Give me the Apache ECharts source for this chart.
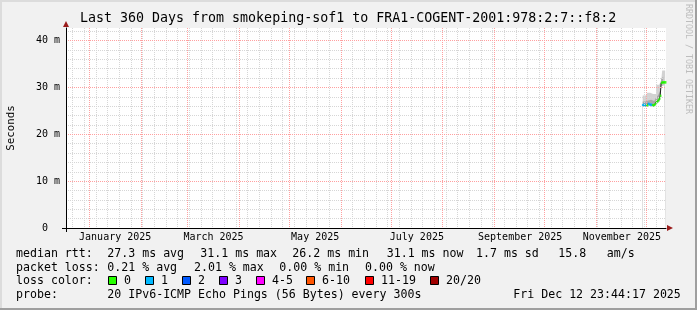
<!DOCTYPE html>
<html><head><meta charset="utf-8">
<script src="https://cdn.jsdelivr.net/npm/echarts@6/dist/echarts.min.js"></script>
<style>html,body{margin:0;padding:0;background:#f1f1f1;}#c{width:697px;height:310px;}</style>
</head><body><div id="c"></div>
<script>
// ---------- data ----------
const startTime = '2024-12-17T23:44:17';
const endTime = '2025-12-12T23:44:17';
const firstSunday = '2024-12-22T00:00:00';
const monthStarts = ['2025-01-01T00:00:00','2025-02-01T00:00:00','2025-03-01T00:00:00','2025-04-01T00:00:00',
  '2025-05-01T00:00:00','2025-06-01T00:00:00','2025-07-01T00:00:00','2025-08-01T00:00:00',
  '2025-09-01T00:00:00','2025-10-01T00:00:00','2025-11-01T00:00:00','2025-12-01T00:00:00'];
const xLabelDates = ['2025-01-16T12:00:00','2025-03-16T12:00:00','2025-05-16T12:00:00',
  '2025-07-16T12:00:00','2025-09-16T12:00:00','2025-11-16T12:00:00'];
const xLabelTexts = ['January 2025','March 2025','May 2025','July 2025','September 2025','November 2025'];
const yLabelTicks = [0, 10, 20, 30, 40];
const yMinorTicks = [2,4,6,8,12,14,16,18,22,24,26,28,32,34,36,38,42];
const yMax = 42.7;

const times = ['2025-11-29T00:00:00','2025-11-29T14:24:00','2025-11-30T04:48:00','2025-11-30T19:12:00',
  '2025-12-01T09:36:00','2025-12-02T00:00:00','2025-12-02T14:24:00','2025-12-03T04:48:00',
  '2025-12-03T19:12:00','2025-12-04T09:36:00','2025-12-05T00:00:00','2025-12-05T14:24:00',
  '2025-12-06T04:48:00','2025-12-06T19:12:00','2025-12-07T09:36:00','2025-12-08T00:00:00',
  '2025-12-08T14:24:00','2025-12-09T04:48:00','2025-12-09T19:12:00','2025-12-10T09:36:00',
  '2025-12-11T00:00:00','2025-12-11T14:24:00','2025-12-12T04:48:00','2025-12-12T19:12:00'];
const median   = [26.2,26.3,26.3,26.2,26.2,26.2,26.5,26.4,26.3,26.3,26.2,26.2,26.3,26.5,26.9,27.1,27.3,27.6,28.2,31.0,31.1,31.1,31.1,31.1];
const lossIdx  = [1,1,1,1,0,0,1,1,1,1,0,0,0,0,0,0,0,0,0,0,0,0,0,0];
const smokeMin = [25.9,26.0,26.0,25.9,25.9,25.9,26.1,26.1,26.0,26.0,25.9,25.9,26.0,26.2,26.5,26.7,26.9,27.1,27.7,30.2,30.5,30.5,30.6,30.6];
const smokeQ1  = [26.1,26.2,26.2,26.1,26.1,26.1,26.4,26.3,26.2,26.2,26.1,26.1,26.2,26.4,26.8,27.0,27.2,27.5,28.0,30.8,30.9,31.0,31.0,31.0];
const smokeQ3  = [27.0,27.1,27.1,27.0,26.9,27.2,27.6,27.5,27.4,27.3,27.1,27.1,27.2,27.4,27.9,28.2,28.4,28.9,29.4,31.8,32.1,32.3,32.3,32.4];
const smokeMax = [28.3,28.3,28.3,28.3,28.3,28.9,28.9,28.9,28.9,28.9,28.6,28.6,28.6,28.6,30.6,30.6,30.6,30.6,30.6,31.5,33.6,33.6,33.6,33.6];

const lossLabels = ['0','1','2','3','4-5','6-10','11-19','20/20'];
const lossColors = ['#26ff00','#00b8ff','#0059ff','#7e00ff','#ff00ff','#ff5500','#ff0000','#a00000'];
const rttValues = [27.3, 31.1, 26.2, 31.1, 1.7];
const rttKinds  = ['avg','max','min','now','sd'];
const ampsValue = '15.8';
const lossValues = [0.21, 2.01, 0.00, 0.00];
const lossKinds  = ['avg','max','min','now'];
const titleText = 'Last 360 Days from smokeping-sof1 to FRA1-COGENT-2001:978:2:7::f8:2';
const probeText = '20 IPv6-ICMP Echo Pings (56 Bytes) every 300s';
const dateText = 'Fri Dec 12 23:44:17 2025';

// ---------- build ----------
const T = s => new Date(s).getTime();
const t0 = T(startTime), t1 = T(endTime);
const DAY = 86400000;
const weekTicks = [];
for (let t = T(firstSunday); t < t1; t += 7 * DAY) weekTicks.push(t);
const labelMs = xLabelDates.map(T);

const MONO = "'DejaVu Sans Mono', monospace";
const redGrid = {color: '#ffa0a0', width: 1, type: [1, 1]};
const grayGrid = {color: '#d6d6d6', width: 1, type: [1, 1]};
const arrowColor = '#9b1c1c';

function areaSeries(vals, color) {
  return {type: 'line', xAxisIndex: 0, yAxisIndex: 0, step: 'middle', symbol: 'none', silent: true,
    data: times.map((t, i) => [T(t), vals[i]]),
    lineStyle: {width: 0}, areaStyle: {color: color, opacity: 1}, z: 2};
}

function txt(text, x, y, size, extra) {
  return Object.assign({type: 'text', x: x, y: y, silent: true,
    style: {text: text, font: size + 'px ' + MONO, fill: '#000',
      align: 'left', textAlign: 'left', verticalAlign: 'middle', textVerticalAlign: 'middle'}}, extra || {});
}

const graphics = [];
graphics.push({type: 'rect', shape: {x: 0, y: 0, width: 697, height: 2}, style: {fill: '#dcdcdc'}, silent: true});
graphics.push({type: 'rect', shape: {x: 0, y: 0, width: 2, height: 310}, style: {fill: '#dcdcdc'}, silent: true});
graphics.push({type: 'rect', shape: {x: 0, y: 308, width: 697, height: 2}, style: {fill: '#9f9f9f'}, silent: true});
graphics.push({type: 'rect', shape: {x: 695, y: 0, width: 2, height: 310}, style: {fill: '#9f9f9f'}, silent: true});
graphics.push(txt(titleText, 80, 18.7, 13.3));
graphics.push(txt('Seconds', 11, 128, 10.8, {rotation: Math.PI / 2, style: {text: 'Seconds', font: '10.8px ' + MONO, fill: '#000',
  align: 'center', textAlign: 'center', verticalAlign: 'middle', textVerticalAlign: 'middle'}}));
graphics.push({type: 'text', x: 688.5, y: 4, rotation: -Math.PI / 2, silent: true,
  style: {text: 'RRDTOOL / TOBI OETIKER', font: '8.3px ' + MONO, fill: '#bdbdbd',
    align: 'left', textAlign: 'left', verticalAlign: 'middle', textVerticalAlign: 'middle'}});
const rowY = [253.7, 267.7, 281.3, 295.3];
const FS = 11.6;
graphics.push(txt('median rtt:', 16, rowY[0], FS));
const rttX = [107.3, 200.3, 292.3, 386.7, 476];
rttValues.forEach((v, i) => graphics.push(txt(v.toFixed(1) + ' ms ' + rttKinds[i], rttX[i], rowY[0], FS)));
graphics.push(txt(ampsValue, 558.3, rowY[0], FS));
graphics.push(txt('am/s', 606.7, rowY[0], FS));
graphics.push(txt('packet loss:', 16, rowY[1], FS));
const lossX = [107.3, 194, 279.3, 365];
lossValues.forEach((v, i) => graphics.push(txt(v.toFixed(2) + ' % ' + lossKinds[i], lossX[i], rowY[1], FS)));
graphics.push(txt('loss color:', 16, rowY[2], FS));
const boxX = [108.5, 145.5, 182.5, 219.5, 256.5, 306.5, 365.5, 430.5];
lossLabels.forEach((l, i) => {
  graphics.push({type: 'rect', silent: true, shape: {x: boxX[i], y: 276.5, width: 8, height: 8},
    style: {fill: lossColors[i], stroke: '#000', lineWidth: 1}});
  graphics.push(txt(l, boxX[i] + 15.5, rowY[2], FS));
});
graphics.push(txt('probe:', 16, rowY[3], FS));
graphics.push(txt(probeText, 107.3, rowY[3], FS));
graphics.push(txt(dateText, 513.3, rowY[3], FS));

const hiddenX = {type: 'value', position: 'bottom', min: t0, max: t1, axisLabel: {show: false}, axisLine: {show: false}};
const hiddenY = {type: 'value', position: 'left', min: 0, max: yMax, axisLabel: {show: false}, axisLine: {show: false}};

const option = {
  animation: false,
  backgroundColor: '#f1f1f1',
  grid: {left: 66, top: 28, width: 600, height: 200, show: true, backgroundColor: '#ffffff', borderWidth: 0},
  xAxis: [
    {type: 'value', position: 'bottom', min: t0, max: t1, z: 6,
      axisLine: {show: true, onZero: false, lineStyle: {color: '#000', width: 1}},
      axisTick: {show: true, customValues: [t0], length: 4, inside: false, lineStyle: {color: '#000'}},
      axisLabel: {show: true, customValues: labelMs, margin: 4, color: '#000', fontFamily: MONO, fontSize: 10,
        formatter: function (v) {
          let best = 0;
          labelMs.forEach((m, i) => { if (Math.abs(m - v) < Math.abs(labelMs[best] - v)) best = i; });
          return xLabelTexts[best];
        }},
      splitLine: {show: false}},
    Object.assign({}, hiddenX, {z: 4, axisTick: {show: false, customValues: weekTicks},
      splitLine: {show: true, lineStyle: grayGrid}}),
    Object.assign({}, hiddenX, {z: 5, axisTick: {show: false, customValues: monthStarts.map(T)},
      splitLine: {show: true, lineStyle: redGrid},
      axisLine: {show: true, onZero: false, symbol: ['none', 'triangle'], symbolSize: [6, 6], symbolOffset: [0, 4],
        lineStyle: {color: arrowColor, width: 0}}})
  ],
  yAxis: [
    {type: 'value', position: 'left', min: 0, max: yMax, z: 6,
      axisLine: {show: true, onZero: false, lineStyle: {color: '#000', width: 1}},
      axisTick: {show: true, customValues: [0], length: 4, lineStyle: {color: '#000'}},
      axisLabel: {show: true, customValues: yLabelTicks, margin: 6, color: '#000', fontFamily: MONO, fontSize: 10,
        formatter: v => (v === 0 ? '0  ' : v + ' m')},
      splitLine: {show: false}},
    Object.assign({}, hiddenY, {z: 4, axisTick: {show: false, customValues: yMinorTicks},
      splitLine: {show: true, lineStyle: grayGrid}}),
    Object.assign({}, hiddenY, {z: 5, axisTick: {show: false, customValues: yLabelTicks},
      splitLine: {show: true, lineStyle: redGrid},
      axisLine: {show: true, onZero: false, symbol: ['none', 'triangle'], symbolSize: [6, 6], symbolOffset: [0, 4],
        lineStyle: {color: arrowColor, width: 0}}})
  ],
  series: [
    areaSeries(smokeMax, '#d2d2d2'),
    areaSeries(smokeQ3, '#a9a9a9'),
    areaSeries(smokeQ1, '#c4c4c4'),
    areaSeries(smokeMin, '#ffffff'),
    {type: 'line', xAxisIndex: 0, yAxisIndex: 0, step: 'middle', symbol: 'none', silent: true, z: 3,
      data: times.map((t, i) => [T(t), median[i]]), lineStyle: {color: '#202020', width: 1}},
    {type: 'scatter', xAxisIndex: 0, yAxisIndex: 0, symbol: 'rect', symbolSize: [1.6, 2.6], silent: true, z: 3,
      data: times.map((t, i) => ({value: [T(t), median[i]], itemStyle: {color: lossColors[lossIdx[i]]}}))}
  ],
  graphic: {elements: graphics}
};
const chart = echarts.init(document.getElementById('c'), null, {renderer: 'canvas'});
chart.setOption(option);
</script></body></html>
